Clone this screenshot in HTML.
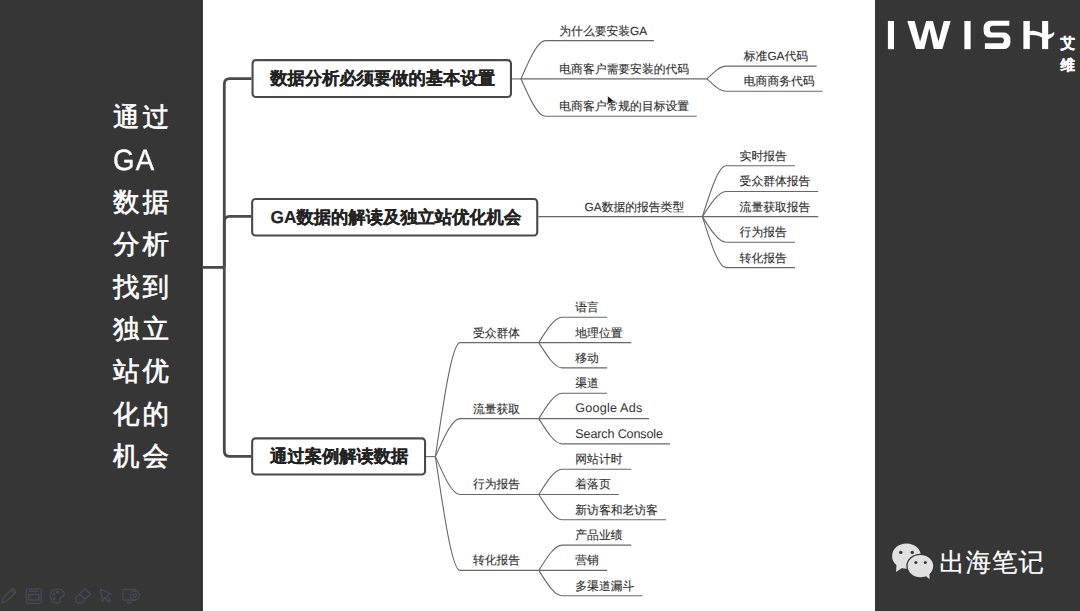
<!DOCTYPE html>
<html><head><meta charset="utf-8"><style>
html,body{margin:0;padding:0;background:#fff;width:1080px;height:611px;overflow:hidden;}
body{position:relative;font-family:"Liberation Sans",sans-serif;text-rendering:geometricPrecision;}
.ov{position:absolute;left:0;top:0;}
.t{position:absolute;white-space:nowrap;}
.sm{-webkit-text-stroke:0.12px #222;}
</style></head><body>
<svg class="ov" width="1080" height="611" viewBox="0 0 1080 611">
<rect x="0" y="0" width="202.7" height="611" fill="#363636"/><rect x="201.2" y="0" width="1.5" height="611" fill="#2e2e2e"/>
<rect x="875" y="0" width="205" height="611" fill="#363636"/>
<g fill="none" stroke="#4a4a4a" stroke-width="2.8" stroke-linecap="butt"><path d="M202 267.4 H224.3"/><path d="M224.3 267.4 V84.2 Q224.3 78.7 229.8 78.7 H251.5"/><path d="M224.3 267.4 V221.8 Q224.3 216.3 229.8 216.3 H251.1"/><path d="M224.3 267.4 V450.9 Q224.3 456.4 229.8 456.4 H251.1"/></g>
<rect x="252.55" y="60.15" width="258.4" height="36.8" rx="3.3" fill="#fff" stroke="#4a4a4a" stroke-width="2.1"/><rect x="252.15" y="198.95000000000002" width="285.1" height="36.6" rx="3.3" fill="#fff" stroke="#4a4a4a" stroke-width="2.1"/><rect x="252.15" y="438.35" width="172.9" height="36.1" rx="3.3" fill="#fff" stroke="#4a4a4a" stroke-width="2.1"/>
<g fill="none" stroke="#686868" stroke-width="1.1"><path d="M512 78.9 H521"/><path d="M521 78.9 C529.30 59.75 537.59 40.6 545.4 40.6 H654"/><path d="M521 78.9 H707"/><path d="M521 78.9 C529.30 97.60 537.59 116.3 545.4 116.3 H696.8"/><path d="M707 78.9 C713.46 72.50 719.92 66.1 726 66.1 H816.7"/><path d="M707 78.9 C713.46 85.10 719.92 91.3 726 91.3 H822.6"/><path d="M538.3 216.6 H702.4"/><path d="M702.4 216.6 C710.42 191.20 718.45 165.8 726 165.8 H795"/><path d="M702.4 216.6 C710.42 204.05 718.45 191.5 726 191.5 H818.2"/><path d="M702.4 216.6 H818.2"/><path d="M702.4 216.6 C710.42 229.40 718.45 242.2 726 242.2 H795"/><path d="M702.4 216.6 C710.42 242.10 718.45 267.6 726 267.6 H795"/><path d="M426.1 456.6 H435.4"/><path d="M435.4 456.6 C443.76 399.60 452.13 342.6 460 342.6 H538.8"/><path d="M538.8 342.6 C546.69 329.95 554.58 317.3 562 317.3 H607.2"/><path d="M538.8 342.6 H631.3"/><path d="M538.8 342.6 C546.69 355.25 554.58 367.90000000000003 562 367.90000000000003 H607.2"/><path d="M435.4 456.6 C443.76 437.60 452.13 418.6 460 418.6 H538.8"/><path d="M538.8 418.6 C546.69 405.95 554.58 393.3 562 393.3 H607.2"/><path d="M538.8 418.6 H649"/><path d="M538.8 418.6 C546.69 431.25 554.58 443.90000000000003 562 443.90000000000003 H670"/><path d="M435.4 456.6 C443.76 475.55 452.13 494.5 460 494.5 H538.8"/><path d="M538.8 494.5 C546.69 481.85 554.58 469.2 562 469.2 H631.3"/><path d="M538.8 494.5 H618.9"/><path d="M538.8 494.5 C546.69 507.15 554.58 519.8 562 519.8 H666.1"/><path d="M435.4 456.6 C443.76 513.50 452.13 570.4 460 570.4 H538.8"/><path d="M538.8 570.4 C546.69 557.75 554.58 545.1 562 545.1 H631.3"/><path d="M538.8 570.4 H607.2"/><path d="M538.8 570.4 C546.69 583.05 554.58 595.6999999999999 562 595.6999999999999 H642.5"/></g>
<defs><filter id="bl" x="-20%" y="-20%" width="140%" height="140%"><feGaussianBlur stdDeviation="0.75"/></filter></defs>
<g fill="#fff">
<rect x="887.9" y="21" width="6.1" height="28.2"/>
<polygon points="907.3,21.1 914.6,21.1 920.1,41.4 926.2,21.1 932.9,21.1 938.5,41.4 943.8,21.1 950.7,21.1 942.4,48.9 933.8,48.9 929.3,28.3 924.3,48.9 916,48.9"/>
<rect x="964.4" y="21" width="6.2" height="28.2"/>
<rect x="1023.4" y="21" width="6.4" height="28.1"/>
<rect x="1042.1" y="21" width="6.1" height="28.1"/>
<path d="M1029.5 31.3 C1033 30.1 1037 31.1 1042 33.3 L1048.2 34.6 C1050.5 34.3 1052.5 33.4 1054.3 31.8 L1054.2 34.6 C1052.2 37.5 1050 38.8 1048.2 39.1 L1042 37.4 C1037 35.2 1033 34.6 1029.5 35.3 Z"/>
</g>
<path d="M1009.3 20.8 H990.3 A6.7 6.7 0 0 0 983.6 27.5 V31 A6.6 6.6 0 0 0 990.2 37.6 H1001.1 A2.8 2.8 0 0 1 1001.1 43.2 H984.9 V49.1 H1003.7 A6.7 6.7 0 0 0 1010.4 42.4 V39.2 A6.6 6.6 0 0 0 1003.8 32.6 H993.2 A3.4 3.4 0 0 1 993.2 25.8 H1009.3 Z" fill="#fff"/>
<g fill="#e1e1e1">
<ellipse cx="906.5" cy="556.1" rx="14.4" ry="12.7"/>
<path d="M896.5 565 L896.1 572 L903.5 567 Z"/>
</g>
<ellipse cx="920.4" cy="566.1" rx="14.1" ry="12.4" fill="#363636"/>
<g fill="#e1e1e1">
<ellipse cx="920.4" cy="566.1" rx="12.8" ry="11.1"/>
<path d="M924 574.5 L929.6 579.2 L929.3 572 Z"/>
</g>
<g fill="#363636">
<circle cx="900.8" cy="552.4" r="1.7"/><circle cx="912.3" cy="552.4" r="1.7"/>
<circle cx="915.9" cy="562.6" r="1.5"/><circle cx="925.3" cy="562.6" r="1.5"/>
</g>
<g fill="none" stroke="#464955" stroke-width="1.3" stroke-linejoin="round" filter="url(#bl)">
<path d="M2 603 L3 598 L12.5 588.5 L16 592 L6.5 601.5 Z M11 590 L14.5 593.5"/>
<rect x="26.5" y="588.8" width="14.5" height="14.5" rx="1.5"/>
<rect x="28.8" y="594.5" width="10" height="5.5"/>
<path d="M29 591.3 H38.5"/>
<path d="M57 589 C62 588.5 65 592 64 595 C63.5 597 61 596 60 598.5 C59 601 61 603 57 603 C52.5 603 50.3 599.5 50.3 596 C50.3 592 53 589.3 57 589 Z"/>
<circle cx="54" cy="594" r="0.9"/><circle cx="57.5" cy="592" r="0.9"/><circle cx="54" cy="598.5" r="0.9"/>
<path d="M76 597.5 L85 588.5 L90.5 594 L81.5 603 L78 603 L76 601 Z M79.5 594 L85 599.5"/>
<path d="M100.5 589 L111 594 L106.5 595.5 L110.5 600 L108.5 602 L104.5 597.5 L102.5 601.5 Z"/>
<rect x="123" y="589.5" width="13" height="10.5" rx="1"/>
<circle cx="134.5" cy="595.5" r="4.5" fill="#363636"/><circle cx="134.5" cy="595.5" r="1.8"/>
<path d="M127 602.5 H132"/>
</g>
<path d="M607.6 95.8 L607.8 104.5 L610 102.2 L611.8 106 L613.2 105.3 L611.4 101.6 L614.5 101.4 Z" fill="#111" stroke="#fff" stroke-width="0.6"/>

</svg>
<div class="t sm" style="left:559.3px;top:25.5px;font-size:11.8px;line-height:11.8px;color:#333333;font-weight:normal;">为什么要安装GA</div><div class="t sm" style="left:559.3px;top:63.8px;font-size:11.8px;line-height:11.8px;color:#333333;font-weight:normal;">电商客户需要安装的代码</div><div class="t sm" style="left:559.3px;top:101.2px;font-size:11.8px;line-height:11.8px;color:#333333;font-weight:normal;">电商客户常规的目标设置</div><div class="t sm" style="left:743.8px;top:51.0px;font-size:11.8px;line-height:11.8px;color:#333333;font-weight:normal;">标准GA代码</div><div class="t sm" style="left:743.8px;top:76.2px;font-size:11.8px;line-height:11.8px;color:#333333;font-weight:normal;">电商商务代码</div><div class="t sm" style="left:584.6px;top:201.5px;font-size:11.8px;line-height:11.8px;color:#333333;font-weight:normal;">GA数据的报告类型</div><div class="t sm" style="left:739.6px;top:150.7px;font-size:11.8px;line-height:11.8px;color:#333333;font-weight:normal;">实时报告</div><div class="t sm" style="left:739.6px;top:176.4px;font-size:11.8px;line-height:11.8px;color:#333333;font-weight:normal;">受众群体报告</div><div class="t sm" style="left:739.6px;top:201.5px;font-size:11.8px;line-height:11.8px;color:#333333;font-weight:normal;">流量获取报告</div><div class="t sm" style="left:739.6px;top:227.1px;font-size:11.8px;line-height:11.8px;color:#333333;font-weight:normal;">行为报告</div><div class="t sm" style="left:739.6px;top:252.5px;font-size:11.8px;line-height:11.8px;color:#333333;font-weight:normal;">转化报告</div><div class="t sm" style="left:472.9px;top:327.5px;font-size:11.8px;line-height:11.8px;color:#333333;font-weight:normal;">受众群体</div><div class="t sm" style="left:575.3px;top:302.2px;font-size:11.8px;line-height:11.8px;color:#333333;font-weight:normal;">语言</div><div class="t sm" style="left:575.3px;top:327.5px;font-size:11.8px;line-height:11.8px;color:#333333;font-weight:normal;">地理位置</div><div class="t sm" style="left:575.3px;top:352.8px;font-size:11.8px;line-height:11.8px;color:#333333;font-weight:normal;">移动</div><div class="t sm" style="left:472.9px;top:403.5px;font-size:11.8px;line-height:11.8px;color:#333333;font-weight:normal;">流量获取</div><div class="t sm" style="left:575.3px;top:378.2px;font-size:11.8px;line-height:11.8px;color:#333333;font-weight:normal;">渠道</div><div class="t sm" style="left:575.3px;top:402.2px;font-size:12.6px;line-height:12.6px;color:#333333;font-weight:normal;-webkit-text-stroke:0;letter-spacing:0.2px;">Google Ads</div><div class="t sm" style="left:575.3px;top:427.5px;font-size:12.6px;line-height:12.6px;color:#333333;font-weight:normal;-webkit-text-stroke:0;letter-spacing:-0.15px;">Search Console</div><div class="t sm" style="left:472.9px;top:479.4px;font-size:11.8px;line-height:11.8px;color:#333333;font-weight:normal;">行为报告</div><div class="t sm" style="left:575.3px;top:454.1px;font-size:11.8px;line-height:11.8px;color:#333333;font-weight:normal;">网站计时</div><div class="t sm" style="left:575.3px;top:479.4px;font-size:11.8px;line-height:11.8px;color:#333333;font-weight:normal;">着落页</div><div class="t sm" style="left:575.3px;top:504.7px;font-size:11.8px;line-height:11.8px;color:#333333;font-weight:normal;">新访客和老访客</div><div class="t sm" style="left:472.9px;top:555.3px;font-size:11.8px;line-height:11.8px;color:#333333;font-weight:normal;">转化报告</div><div class="t sm" style="left:575.3px;top:530.0px;font-size:11.8px;line-height:11.8px;color:#333333;font-weight:normal;">产品业绩</div><div class="t sm" style="left:575.3px;top:555.3px;font-size:11.8px;line-height:11.8px;color:#333333;font-weight:normal;">营销</div><div class="t sm" style="left:575.3px;top:580.6px;font-size:11.8px;line-height:11.8px;color:#333333;font-weight:normal;">多渠道漏斗</div><div class="t" style="left:270.3px;top:70.2px;font-size:17.3px;line-height:17.3px;color:#222;font-weight:bold;-webkit-text-stroke:0.2px #222;">数据分析必须要做的基本设置</div><div class="t" style="left:270.6px;top:208.8px;font-size:17.3px;line-height:17.3px;color:#222;font-weight:bold;-webkit-text-stroke:0.2px #222;">GA数据的解读及独立站优化机会</div><div class="t" style="left:270.1px;top:448.2px;font-size:17.3px;line-height:17.3px;color:#222;font-weight:bold;-webkit-text-stroke:0.2px #222;">通过案例解读数据</div><div class="t" style="left:113.0px;top:103.9px;font-size:26.5px;line-height:26.5px;color:#fff;font-weight:normal;letter-spacing:3px;-webkit-text-stroke:0.6px #fff;">通过</div><div class="t" style="left:112.6px;top:145.7px;font-size:29.3px;line-height:29.3px;color:#fff;font-weight:normal;letter-spacing:1.3px;-webkit-text-stroke:0.4px #fff;transform:scaleX(0.94);transform-origin:0 0;">GA</div><div class="t" style="left:113.0px;top:188.7px;font-size:26.5px;line-height:26.5px;color:#fff;font-weight:normal;letter-spacing:3px;-webkit-text-stroke:0.6px #fff;">数据</div><div class="t" style="left:113.0px;top:231.2px;font-size:26.5px;line-height:26.5px;color:#fff;font-weight:normal;letter-spacing:3px;-webkit-text-stroke:0.6px #fff;">分析</div><div class="t" style="left:113.0px;top:273.6px;font-size:26.5px;line-height:26.5px;color:#fff;font-weight:normal;letter-spacing:3px;-webkit-text-stroke:0.6px #fff;">找到</div><div class="t" style="left:113.0px;top:316.0px;font-size:26.5px;line-height:26.5px;color:#fff;font-weight:normal;letter-spacing:3px;-webkit-text-stroke:0.6px #fff;">独立</div><div class="t" style="left:113.0px;top:358.4px;font-size:26.5px;line-height:26.5px;color:#fff;font-weight:normal;letter-spacing:3px;-webkit-text-stroke:0.6px #fff;">站优</div><div class="t" style="left:113.0px;top:400.8px;font-size:26.5px;line-height:26.5px;color:#fff;font-weight:normal;letter-spacing:3px;-webkit-text-stroke:0.6px #fff;">化的</div><div class="t" style="left:113.0px;top:443.3px;font-size:26.5px;line-height:26.5px;color:#fff;font-weight:normal;letter-spacing:3px;-webkit-text-stroke:0.6px #fff;">机会</div><div class="t" style="left:1060.4px;top:36.8px;font-size:14.4px;line-height:14.4px;color:#fff;font-weight:bold;-webkit-text-stroke:0.4px #fff;">艾</div><div class="t" style="left:1060.4px;top:59.4px;font-size:14.4px;line-height:14.4px;color:#fff;font-weight:bold;-webkit-text-stroke:0.4px #fff;">维</div><div class="t" style="left:939.3px;top:551.0px;font-size:25.5px;line-height:25.5px;color:#fff;font-weight:normal;letter-spacing:0.9px;-webkit-text-stroke:0.2px #fff;">出海笔记</div>
</body></html>
